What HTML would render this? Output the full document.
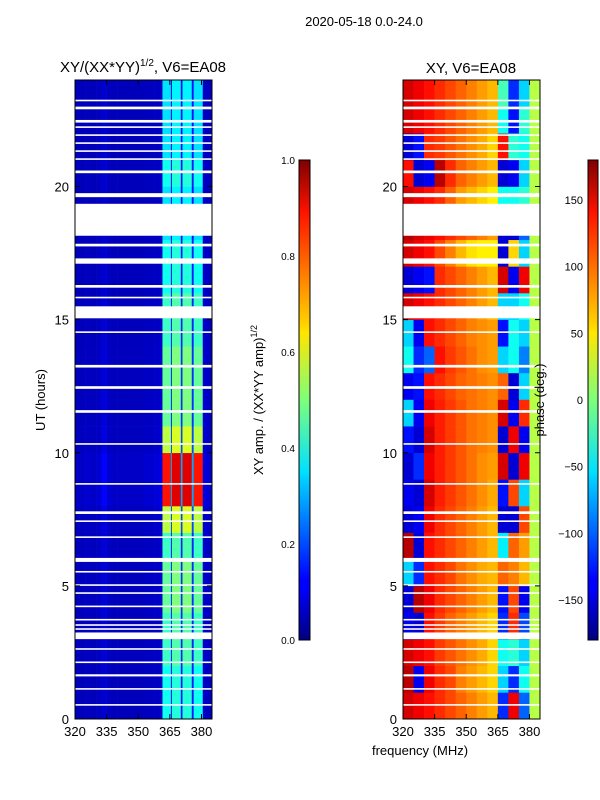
<!DOCTYPE html>
<html><head><meta charset="utf-8">
<style>
body{margin:0;background:#fff;}
svg{display:block;font-family:"Liberation Sans",sans-serif;}
</style></head>
<body>
<svg id="fig" width="600" height="800" viewBox="0 0 600 800">
<defs>
<linearGradient id="jet" x1="0" y1="1" x2="0" y2="0">
<stop offset="0" stop-color="#00007f"/><stop offset="0.11" stop-color="#0000ff"/>
<stop offset="0.125" stop-color="#0000ff"/><stop offset="0.34" stop-color="#00d4ff"/>
<stop offset="0.35" stop-color="#00e0ff"/><stop offset="0.5" stop-color="#7dff7a"/>
<stop offset="0.64" stop-color="#ffe600"/><stop offset="0.66" stop-color="#ffd000"/>
<stop offset="0.89" stop-color="#ff1300"/><stop offset="1" stop-color="#7f0000"/>
</linearGradient>
</defs>
<text x="364" y="26" font-size="13" text-anchor="middle">2020-05-18 0.0-24.0</text>
<text x="143" y="72" font-size="15" text-anchor="middle">XY/(XX*YY)<tspan font-size="10" dy="-6">1/2</tspan><tspan dy="6">, V6=EA08</tspan></text>
<text x="471" y="73" font-size="15" text-anchor="middle">XY, V6=EA08</text>
<g id="ampPlot"></g>
<g id="phPlot"></g>
<g id="axes"></g>
<text transform="translate(45,400) rotate(-90)" font-size="13" text-anchor="middle">UT (hours)</text>
<text x="420" y="755" font-size="13" text-anchor="middle">frequency (MHz)</text>
<rect x="299" y="160" width="11" height="480" fill="url(#jet)" stroke="#000" stroke-width="1"/>
<rect x="588" y="160" width="10" height="480" fill="url(#jet)" stroke="#000" stroke-width="1"/>
<text transform="translate(263,400) rotate(-90)" font-size="13" text-anchor="middle">XY amp. / (XX*YY amp)<tspan font-size="9" dy="-6">1/2</tspan></text>
<text transform="translate(544,400) rotate(-90)" font-size="13" text-anchor="middle">phase (deg.)</text>
</svg>
<script>
// ---- data ----
const hours = [0,1,2,3,4,5,6,7,8,9,10,11,12,13,14,15,16,17,18,19,20,21,22,23];
const ampFreqs = [320,322.5,325,327.5,330,332.5,335,337.5,340,342.5,345,347.5,350,352.5,355,357.5,360,361.5,365.5,366,370.2,371,375.4,376.3,380.6,382.5];
const ampBase = 0.05;
const ampProfile = [0.02,0.02,0.03,0.02,0.03,0.08,0.03,0.02,0.02,0.02,0.02,0.02,0.02,0.03,0.03,0.04,0.05,0.85,0.25,0.9,0.25,0.9,0.25,0.85,0.05,0.03];
const ampRowLevel = [0.4,0.4,0.45,0.45,0.5,0.5,0.45,0.6,0.95,0.95,0.6,0.5,0.5,0.5,0.45,0.45,0.4,0.4,0.35,0.35,0.4,0.35,0.35,0.35];
const phFreqs = [320,325,330,335,340,345,350,355,360,365,370,375,380];
const phase = [
 [150,140,130,120,110,100,90,80,70,-120,140,-100,20],
 [160,-140,140,120,110,90,80,70,60,-60,-120,-40,20],
 [150,140,130,115,105,95,85,75,60,-40,-30,-60,20],
 [-140,-150,130,115,100,90,80,70,60,-120,120,-110,20],
 [-150,160,140,120,110,100,90,80,70,-130,110,-140,20],
 [-60,-120,130,120,110,95,85,75,70,100,90,70,20],
 [160,-150,130,120,110,100,90,80,70,-50,100,80,20],
 [-150,-140,140,120,110,100,90,80,70,-150,-150,110,20],
 [-140,-150,150,125,115,105,95,85,75,-130,110,-60,20],
 [-150,-120,140,125,115,105,95,85,80,150,-150,140,20],
 [-130,-150,150,125,115,105,95,90,85,-150,140,-140,20],
 [-60,-140,140,125,115,105,95,90,85,150,-140,120,20],
 [-140,-130,130,120,110,100,95,90,85,100,-150,-60,20],
 [-40,-120,-100,130,115,105,95,85,80,-60,-40,-90,20],
 [-60,-140,130,120,110,100,90,85,80,-130,-40,-60,20],
 [150,140,130,120,110,100,90,80,70,-60,-60,-40,20],
 [-150,-140,-130,120,110,100,90,80,70,150,-140,140,20],
 [150,140,130,110,90,70,55,50,50,-150,60,-60,20],
 [160,150,140,130,120,110,100,90,80,-150,-150,-100,20],
 [150,140,130,120,100,80,70,60,50,-40,-40,-30,20],
 [130,-150,-140,160,120,100,90,80,70,-150,-140,-60,20],
 [-150,-130,120,115,105,95,85,75,60,130,-30,-40,20],
 [150,140,130,120,110,100,90,80,70,-40,-130,-30,20],
 [150,140,130,120,110,100,90,80,70,-20,-120,-60,20]
];
const gaps = [[0.5,0.56],[1.1,1.16],[1.6,1.68],[2.1,2.16],[2.6,2.66],[3.0,3.25],[3.35,3.41],[3.5,3.56],[3.7,3.76],[4.2,4.26],[4.7,4.76],[5.0,5.06],[5.5,5.56],[5.9,6.05],[6.8,6.86],[7.4,7.46],[7.7,7.8],[8.8,8.86],[10.3,10.36],[11.5,11.6],[12.4,12.5],[13.2,13.3],[14.5,14.56],[15.05,15.5],[15.8,15.86],[16.2,16.3],[17.1,17.3],[17.75,17.85],[18.15,19.35],[19.6,19.75],[20.5,20.6],[21.0,21.06],[21.3,21.36],[21.6,21.66],[21.9,21.96],[22.2,22.26],[22.4,22.5],[22.9,23.0],[23.2,23.26]];
const xTicks = [320,335,350,365,380];
const yTicks = [0,5,10,15,20];
const ampCbTicks = [0.0,0.2,0.4,0.6,0.8,1.0];
const phCbTicks = [-150,-100,-50,0,50,100,150];

// ---- scales ----
const NS='http://www.w3.org/2000/svg';
const Y0=719,Y1=80, X0L=75, X0R=403, W=137, F0=320, F1=385;
const yS=h=>Y0-(h/24)*(Y0-Y1);
const xS=(x0,f)=>x0+(f-F0)/(F1-F0)*W;
function jet(v){v=Math.max(0,Math.min(1,v));
 const c=t=>Math.round(255*Math.max(0,Math.min(1,1.5-Math.abs(4*v-t))));
 return `rgb(${c(3)},${c(2)},${c(1)})`;}
function mk(tag,attrs,parent){const e=document.createElementNS(NS,tag);for(const k in attrs)e.setAttribute(k,attrs[k]);parent.appendChild(e);return e;}
const ampG=document.getElementById('ampPlot'), phG=document.getElementById('phPlot'), axG=document.getElementById('axes');

hours.forEach((h,i)=>{
 ampFreqs.forEach((f,j)=>{
  const f2=j+1<ampFreqs.length?ampFreqs[j+1]:F1;
  const v=ampBase+ampProfile[j]*ampRowLevel[i];
  const r=mk('rect',{x:xS(X0L,f),y:yS(h+1),width:xS(X0L,f2)-xS(X0L,f)+0.3,height:yS(h)-yS(h+1)+0.3,fill:jet(v)},ampG);
  
  
 });
 phFreqs.forEach((f,j)=>{
  const f2=j+1<phFreqs.length?phFreqs[j+1]:F1;
  const v=(phase[i][j]+180)/360;
  const r=mk('rect',{x:xS(X0R,f),y:yS(h+1),width:xS(X0R,f2)-xS(X0R,f)+0.3,height:yS(h)-yS(h+1)+0.3,fill:jet(v)},phG);
  
  
 });
});
gaps.forEach(g=>{
 [X0L,X0R].forEach(x0=>{
  const r=mk('rect',{x:x0,y:yS(g[1]),width:W,height:Math.max(1.5,yS(g[0])-yS(g[1])),fill:'#fff'},axG);
  
  
 });
});
[X0L,X0R].forEach((x0,pi)=>{
 const fr=mk('rect',{x:x0,y:Y1,width:W,height:Y0-Y1,fill:'none',stroke:'#000','stroke-width':1},axG);
 
 
 xTicks.forEach(t=>{
  const x=xS(x0,t);
  mk('line',{x1:x,x2:x,y1:Y0,y2:Y0-5,stroke:'#000'},axG);
  mk('line',{x1:x,x2:x,y1:Y1,y2:Y1+5,stroke:'#000'},axG);
  const tx=mk('text',{x:x,y:Y0+17,'font-size':13,'text-anchor':'middle'},axG);
  tx.textContent=t;
  
  
 });
 yTicks.forEach(t=>{
  const y=yS(t);
  mk('line',{x1:x0,x2:x0+5,y1:y,y2:y,stroke:'#000'},axG);
  mk('line',{x1:x0+W,x2:x0+W-5,y1:y,y2:y,stroke:'#000'},axG);
  const tx=mk('text',{x:x0-6,y:y+5,'font-size':13,'text-anchor':'end'},axG);
  tx.textContent=t;
  
  
 });
});
ampCbTicks.forEach(t=>{
 const y=640-t*480;
 mk('line',{x1:299,x2:303,y1:y,y2:y,stroke:'#000'},axG);
 mk('line',{x1:310,x2:306,y1:y,y2:y,stroke:'#000'},axG);
 const tx=mk('text',{x:295,y:y+4,'font-size':10,'text-anchor':'end'},axG);
 tx.textContent=t.toFixed(1);
 
 
});
phCbTicks.forEach(t=>{
 const y=640-(t+180)/360*480;
 mk('line',{x1:588,x2:592,y1:y,y2:y,stroke:'#000'},axG);
 mk('line',{x1:598,x2:594,y1:y,y2:y,stroke:'#000'},axG);
 const tx=mk('text',{x:583,y:y+4,'font-size':11,'text-anchor':'end'},axG);
 tx.textContent=t<0?'\u2212'+(-t):t;
 
 
});
</script>
</body></html>
